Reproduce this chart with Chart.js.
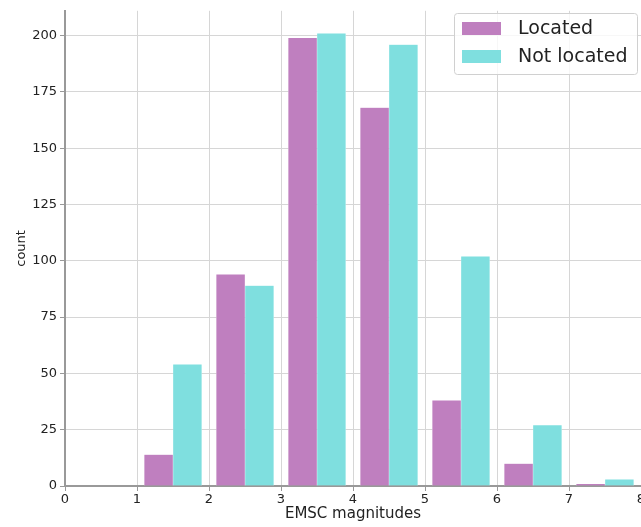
<!DOCTYPE html>
<html>
<head>
<meta charset="utf-8">
<script src="https://cdn.jsdelivr.net/npm/chart.js@4.4.1/dist/chart.umd.min.js"></script>
<style>
  html, body { margin: 0; padding: 0; background: #fff; }
  #wrap { width: 641px; height: 527px; }
</style>
</head>
<body>
<div id="wrap"><canvas id="histCanvas" width="641" height="527"></canvas></div>
<script>
// histogram bins (EMSC magnitude), width 1
const binStarts = [1, 2, 3, 4, 5, 6, 7];
const locatedCounts = [14, 94, 199, 168, 38, 10, 1];
const notLocatedCounts = [54, 89, 201, 196, 102, 27, 3];
const xTicks = [0, 1, 2, 3, 4, 5, 6, 7, 8];
const yTicks = [0, 25, 50, 75, 100, 125, 150, 175, 200];
const seriesLabels = ['Located', 'Not located'];

// matplotlib-style: two bars share 0.8 of each bin
const toPoints = (counts, offset) =>
  binStarts.map((b, i) => ({ x: b + offset, y: counts[i] }));

const FONT = "'DejaVu Sans', sans-serif";

// legend drawn inside the plot, top right, like matplotlib
const boxLegend = {
  id: 'boxLegend',
  afterDraw(chart) {
    const ctx = chart.ctx;
    const ds = chart.data.datasets;
    ctx.save();
    const x0 = 454, y0 = 13, w = 183, h = 61;
    ctx.fillStyle = 'rgba(255,255,255,0.8)';
    ctx.strokeStyle = '#d0d0d0';
    ctx.lineWidth = 1;
    ctx.beginPath();
    ctx.roundRect(x0 + 0.5, y0 + 0.5, w, h, 3);
    ctx.fill();
    ctx.stroke();
    ctx.font = '19px ' + FONT;
    ctx.textBaseline = 'middle';
    ds.forEach((d, i) => {
      const cy = y0 + 16 + i * 28;
      ctx.fillStyle = d.backgroundColor;
      ctx.fillRect(462, cy - 7, 39, 13);
      ctx.fillStyle = '#222';
      ctx.fillText(d.label, 518, cy);
    });
    ctx.restore();
  }
};

new Chart(document.getElementById('histCanvas'), {
  type: 'bar',
  data: {
    datasets: [
      {
        label: seriesLabels[0],
        data: toPoints(locatedCounts, 0.3),
        backgroundColor: '#bf7fbf',
        borderColor: 'rgba(255,255,255,0.5)',
        borderWidth: 0.5
      },
      {
        label: seriesLabels[1],
        data: toPoints(notLocatedCounts, 0.7),
        backgroundColor: '#7fdfdf',
        borderColor: 'rgba(255,255,255,0.5)',
        borderWidth: 0.5
      }
    ]
  },
  options: {
    responsive: false,
    animation: false,
    grouped: false,
    categoryPercentage: 1.0,
    barPercentage: 1.0,
    layout: { padding: { top: 8, right: 0, left: 0, bottom: 0 } },
    plugins: {
      legend: { display: false },
      tooltip: { enabled: false }
    },
    scales: {
      x: {
        type: 'linear',
        offset: false,
        min: 0,
        max: 8,
        afterBuildTicks: s => { s.ticks = xTicks.map(v => ({ value: v })); },
        afterFit: s => { s.height = 41; s.paddingLeft = 0; s.paddingRight = 0; },
        ticks: {
          color: '#222',
          font: { family: FONT, size: 13 },
          padding: 1,
          maxRotation: 0
        },
        grid: {
          offset: false,
          color: '#d6d6d6',
          lineWidth: 1,
          tickLength: 5,
          tickColor: '#999',
          drawOnChartArea: true
        },
        border: { color: '#999', width: 2 },
        title: {
          display: true,
          text: 'EMSC magnitudes',
          color: '#222',
          font: { family: FONT, size: 15 },
          padding: { top: 0, bottom: 4 }
        }
      },
      y: {
        min: 0,
        max: 211,
        afterBuildTicks: s => { s.ticks = yTicks.map(v => ({ value: v })); },
        afterFit: s => { s.width = 65; },
        ticks: {
          color: '#222',
          font: { family: FONT, size: 13 },
          padding: 3
        },
        grid: {
          color: '#d6d6d6',
          lineWidth: 1,
          tickLength: 5,
          tickColor: '#999'
        },
        border: { color: '#999', width: 2 },
        title: {
          display: true,
          text: 'count',
          color: '#222',
          font: { family: FONT, size: 13 },
          padding: { top: 14, bottom: 4 }
        }
      }
    }
  },
  plugins: [boxLegend]
});
</script>
</body>
</html>
